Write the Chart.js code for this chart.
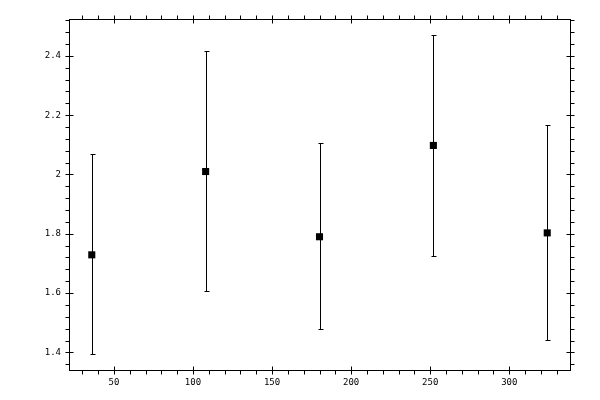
<!DOCTYPE html>
<html>
<head>
<meta charset="utf-8">
<script src="https://cdn.jsdelivr.net/npm/chart.js@4.4.0/dist/chart.umd.min.js"></script>
<style>
  html, body { margin: 0; padding: 0; background: #fff; }
  #wrap { width: 600px; height: 400px; }
</style>
</head>
<body>
<div id="wrap"><canvas id="chart" width="600" height="400"></canvas></div>
<script>
const xValues = [36, 108, 180, 252, 324];
const yValues = [1.729, 2.010, 1.790, 2.098, 1.803];
const yLow = [1.394, 1.607, 1.478, 1.725, 1.441];
const yHigh = [2.068, 2.415, 2.105, 2.471, 2.166];

const xTicks = [50, 100, 150, 200, 250, 300];
const yTicks = [1.4, 1.6, 1.8, 2, 2.2, 2.4];

document.addEventListener("DOMContentLoaded", function() {
    const points = xValues.map((x, i) => ({ x: x, y: yValues[i] }));

    // error bars + box + tick marks, all placed via the chart's scales
    const frame = {
        id: "frame",
        beforeDatasetsDraw(chart) {
            const ctx = chart.ctx;
            const xs = chart.scales.x, ys = chart.scales.y;
            ctx.save();
            ctx.strokeStyle = "#000";
            ctx.lineWidth = 1;
            xValues.forEach((x, i) => {
                const px = Math.round(xs.getPixelForValue(x)) + 0.5;
                const lo = Math.round(ys.getPixelForValue(yLow[i])) + 0.5;
                const hi = Math.round(ys.getPixelForValue(yHigh[i])) + 0.5;
                ctx.beginPath();
                ctx.moveTo(px, lo); ctx.lineTo(px, hi);
                ctx.moveTo(px - 2, lo); ctx.lineTo(px + 3, lo);
                ctx.moveTo(px - 2, hi); ctx.lineTo(px + 3, hi);
                ctx.stroke();
            });
            ctx.restore();
        },
        afterDraw(chart) {
            const ctx = chart.ctx;
            const a = chart.chartArea;
            const xs = chart.scales.x, ys = chart.scales.y;
            const L = Math.round(a.left) + 0.5, R = Math.round(a.right) + 0.5;
            const T = Math.round(a.top) + 0.5, B = Math.round(a.bottom) + 0.5;
            ctx.save();
            ctx.strokeStyle = "#000";
            ctx.lineWidth = 1;
            ctx.strokeRect(L, T, R - L, B - T);
            ctx.beginPath();
            for (let v = 30; v <= 330; v += 10) {
                const px = Math.round(xs.getPixelForValue(v)) + 0.5;
                const major = v % 50 === 0;
                ctx.moveTo(px, B + 4); ctx.lineTo(px, major ? B - 4 : B);
                ctx.moveTo(px, T - 4); ctx.lineTo(px, major ? T + 4 : T);
            }
            for (let k = 34; k <= 63; k++) {
                const v = k * 0.04;
                const py = Math.round(ys.getPixelForValue(v)) + 0.5;
                const major = k % 5 === 0;
                ctx.moveTo(L - 4, py); ctx.lineTo(major ? L + 4 : L, py);
                ctx.moveTo(R + 4, py); ctx.lineTo(major ? R - 4 : R, py);
            }
            ctx.stroke();
            ctx.restore();
        }
    };

    new Chart(document.getElementById("chart"), {
        type: "scatter",
        data: {
            datasets: [{
                data: points,
                pointStyle: "rect",
                pointRadius: 5,
                pointBorderWidth: 0,
                backgroundColor: "#000",
                borderColor: "#000"
            }]
        },
        options: {
            responsive: false,
            animation: false,
            events: [],
            layout: { padding: { top: 19, right: 30, left: 0, bottom: 0 } },
            plugins: { legend: { display: false }, tooltip: { enabled: false } },
            scales: {
                x: {
                    type: "linear",
                    min: 21.6,
                    max: 338.4,
                    afterFit(s) { s.height = 30; },
                    afterBuildTicks(s) { s.ticks = xTicks.map(v => ({ value: v })); },
                    grid: { display: false, drawTicks: false, tickLength: 0 },
                    border: { display: false },
                    ticks: {
                        padding: 7,
                        color: "#000",
                        font: { family: "DejaVu Sans Mono", size: 9 },
                        maxRotation: 0,
                        callback: v => String(v)
                    }
                },
                y: {
                    type: "linear",
                    min: 1.3405,
                    max: 2.5245,
                    afterFit(s) { s.width = 69; },
                    afterBuildTicks(s) { s.ticks = yTicks.map(v => ({ value: v })); },
                    grid: { display: false, drawTicks: false, tickLength: 0 },
                    border: { display: false },
                    ticks: {
                        padding: 8,
                        color: "#000",
                        font: { family: "DejaVu Sans Mono", size: 9 },
                        callback: v => String(Math.round(v * 10) / 10)
                    }
                }
            }
        },
        plugins: [frame]
    });
});
</script>
</body>
</html>
